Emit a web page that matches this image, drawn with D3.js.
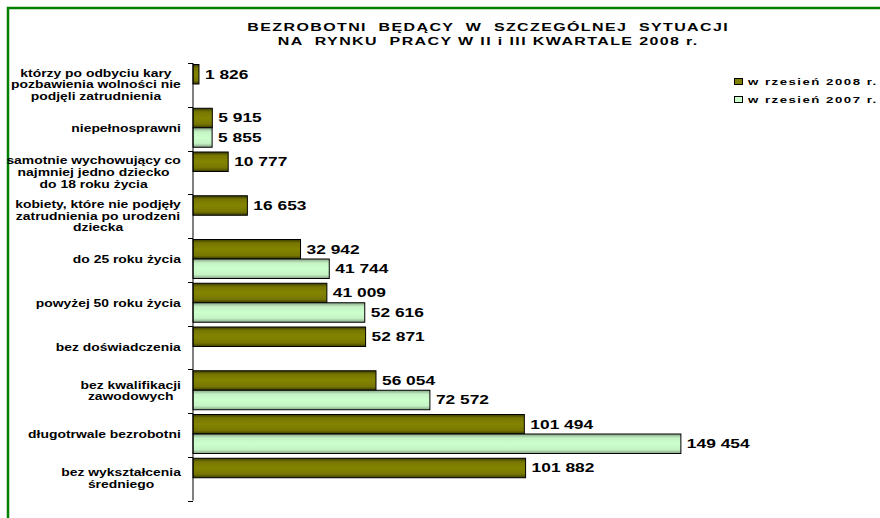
<!DOCTYPE html>
<html>
<head>
<meta charset="utf-8">
<script src="https://cdn.jsdelivr.net/npm/d3@7"></script>
<style>
  html, body { margin: 0; padding: 0; background: #fff; }
  svg { display: block; }
  text { font-family: "Liberation Sans", Arial, sans-serif; font-weight: bold; fill: #000; white-space: pre; }
</style>
</head>
<body>
<svg id="chart" width="880" height="518"></svg>
<script>
// Categories, top to bottom (multi-line labels split by "\n")
const categories = [
  "którzy po odbyciu kary\npozbawienia wolności nie\npodjęli zatrudnienia",
  "niepełnosprawni",
  "samotnie wychowujący co\nnajmniej jedno dziecko\ndo 18 roku życia",
  "kobiety, które nie podjęły\nzatrudnienia po urodzeni\ndziecka",
  "do 25 roku życia",
  "powyżej 50 roku życia",
  "bez doświadczenia",
  "bez kwalifikacji\nzawodowych",
  "długotrwale bezrobotni",
  "bez wykształcenia\nśredniego"
];
// Values; null where the category has no figure for that month
const sep2008 = [1826, 5915, 10777, 16653, 32942, 41009, 52871, 56054, 101494, 101882];
const sep2007 = [null, 5855, null, null, 41744, 52616, null, 72572, 149454, null];

const seriesNames = ["w rzesień 2008 r.", "w rzesień 2007 r."];
const titleLines = [
  "BEZROBOTNI  BĘDĄCY  W  SZCZEGÓLNEJ  SYTUACJI",
  "NA  RYNKU  PRACY W II i III KWARTALE 2008 r."
];

const fmt = v => d3.format(",")(v).replace(/,/g, " ");
const STRETCH = 1.39; // wide lettering of the original chart

const svg = d3.select("#chart");

// gradients for the bar fills
const defs = svg.append("defs");
function grad(id, stops) {
  const g = defs.append("linearGradient").attr("id", id)
    .attr("x1", 0).attr("y1", 0).attr("x2", 0).attr("y2", 1);
  stops.forEach(([o, c]) => g.append("stop").attr("offset", o).attr("stop-color", c));
}
grad("g2008", [[0, "#3a3a00"], [0.18, "#767600"], [0.5, "#848400"], [0.82, "#767600"], [1, "#3a3a00"]]);
grad("g2007", [[0, "#86a386"], [0.2, "#c4f2c4"], [0.5, "#ccffcc"], [0.8, "#c4f2c4"], [1, "#86a386"]]);
const fills = ["url(#g2008)", "url(#g2007)"];

// frame
svg.append("rect").attr("x", 8).attr("y", 8).attr("width", 900).attr("height", 600)
  .attr("fill", "none").attr("stroke", "#008000").attr("stroke-width", 2.5);

// horizontally stretched text: anchor "start" | "middle" | "end"; ls = letter spacing (px, on screen)
function stext(parent, str, x, y, size, anchor, ls = 0) {
  const t = parent.append("text").attr("x", 0).attr("y", y)
    .style("font-size", size + "px").style("letter-spacing", (ls / STRETCH) + "px").text(str);
  const w = t.node().getComputedTextLength() * STRETCH;
  const x0 = anchor === "middle" ? x - w / 2 : anchor === "end" ? x - w : x;
  t.attr("transform", `translate(${x0},0) scale(${STRETCH},1)`);
  return w;
}
function measure(parent, str, size) {
  const t = parent.append("text").style("font-size", size + "px").text(str);
  const w = t.node().getComputedTextLength() * STRETCH;
  t.remove();
  return w;
}

// title
titleLines.forEach((l, i) => stext(svg, l, 488.5, 31 + i * 14.5, 11.5, "middle", 1.4));

// scales
const y = d3.scaleBand().domain(d3.range(categories.length)).range([63, 500.5]).paddingInner(0).paddingOuter(0);
const ySub = d3.scaleBand().domain([0, 1]).range([1.5, 40.5]);
const x = d3.scaleLinear().domain([0, 160000]).range([193, 715.3]);

// bars and value labels
const series = [sep2008, sep2007];
series.forEach((vals, s) => {
  vals.forEach((v, i) => {
    if (v == null) return;
    const by = y(i) + ySub(s);
    const bh = ySub.bandwidth();
    svg.append("rect").attr("x", x(0)).attr("y", by)
      .attr("width", x(v) - x(0)).attr("height", bh)
      .attr("fill", fills[s]).attr("stroke", "#000").attr("stroke-width", 1);
    stext(svg, fmt(v), x(v) + 6, by + bh / 2 + 4.5, 12.5, "start");
  });
});

// category axis
const axis = svg.append("g").attr("stroke", "#000").attr("stroke-width", 1);
axis.append("line").attr("x1", x(0)).attr("x2", x(0)).attr("y1", y.range()[0]).attr("y2", y.range()[1]);
d3.range(categories.length + 1).forEach(i => {
  const ty = Math.round(y.range()[0] + i * y.step()) + 0.5;
  axis.append("line").attr("x1", x(0) - 5).attr("x2", x(0)).attr("y1", ty).attr("y2", ty);
});

// category labels: lines centred within a block right-aligned to the axis
const labels = svg.append("g");
categories.forEach((c, i) => {
  const lines = c.split("\n");
  const lh = 11.7;
  const cy = y(i) + y.bandwidth() / 2;
  const maxW = d3.max(lines, l => measure(labels, l, 10));
  const centerX = 181 - maxW / 2;
  lines.forEach((l, j) => {
    const ly = cy + (j - (lines.length - 1) / 2) * lh + 3.5;
    stext(labels, l, centerX, ly, 10, "middle");
  });
});

// legend
const legend = svg.append("g");
seriesNames.forEach((n, i) => {
  const ly = 82 + i * 18;
  legend.append("rect").attr("x", 734.5).attr("y", ly - 3.5).attr("width", 8).attr("height", 6)
    .attr("fill", i === 0 ? "#808000" : "#ccffcc").attr("stroke", "#000").attr("stroke-width", 1);
  stext(legend, n, 748, ly + 3.5, 9.5, "start", 1.5);
});
</script>
</body>
</html>
